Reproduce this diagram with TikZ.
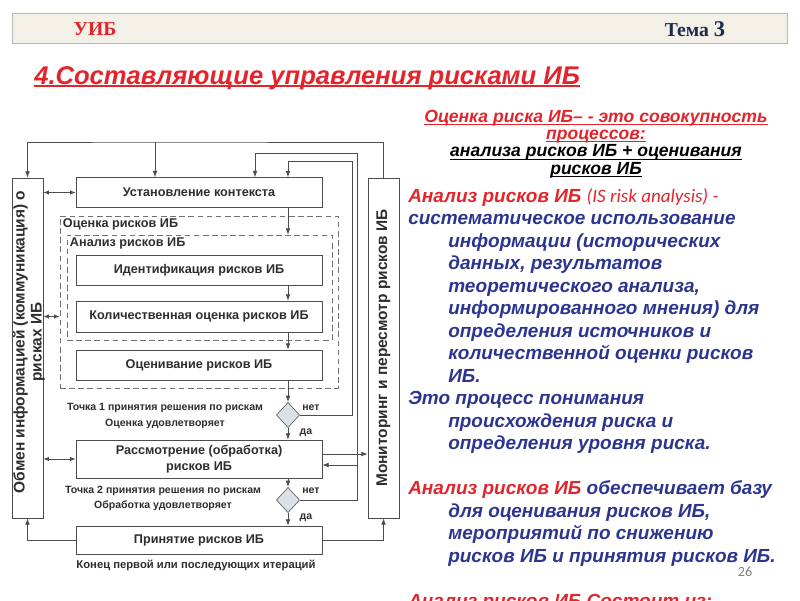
\documentclass[tikz,border=0pt]{standalone}
\usepackage{fontspec}
\setmainfont{Liberation Sans}
\newfontfamily\serifhead{Liberation Serif}
\newfontfamily\calib{Carlito}
\usetikzlibrary{arrows.meta,positioning,shapes.geometric}
\definecolor{rouge}{HTML}{E3242B}
\definecolor{bleu}{HTML}{2B3590}
\definecolor{gris}{HTML}{4D4D4D}
\definecolor{encre}{HTML}{2E2E2E}
\definecolor{marine}{HTML}{1C2B4C}
\definecolor{creme}{HTML}{F3F0E7}
\definecolor{losange}{HTML}{DCE0E8}
\newcommand\souligne[2][0.7pt]{\setbox0=\hbox{#2}\rlap{\usebox0}\rule[-1.8pt]{\wd0}{#1}}

\begin{document}
\begin{tikzpicture}[x=0.025cm,y=-0.025cm,
  boite/.style={draw=gris,fill=white,font=\fontsize{9}{11}\selectfont\bfseries,text=encre,minimum width=6.15cm,minimum height=0.75cm,inner sep=1pt,align=center},
  colonne/.style={draw=gris,fill=white,minimum width=0.775cm,minimum height=8.5cm,inner sep=0pt},
  coltxt/.style={rotate=90,align=center,font=\fontsize{11}{12}\selectfont\bfseries,text=encre,inner sep=0pt},
  zone/.style={draw=gris!80,dash pattern=on 4pt off 2.5pt,inner sep=0pt},
  zlab/.style={font=\fontsize{9}{11}\selectfont\bfseries,text=encre,anchor=north west,inner sep=1pt},
  choix/.style={diamond,draw=gris,fill=losange,minimum width=5.8mm,minimum height=6.3mm,inner sep=0pt},
  pointlab/.style={font=\fontsize{7.5}{11}\selectfont\bfseries,text=encre,align=center},
  rep/.style={font=\fontsize{7.5}{9}\selectfont\bfseries,text=encre,inner sep=1pt},
  fl/.style={-{Latex[length=1.6mm,width=1.2mm]},gris,line width=0.6pt},
  fl2/.style={{Latex[length=1.4mm,width=1.1mm]}-{Latex[length=1.4mm,width=1.1mm]},gris,line width=0.6pt},
  texte/.style={font=\fontsize{13.5}{16}\selectfont\bfseries\itshape,align=left,anchor=north west,inner sep=0pt}]
  \useasboundingbox (0,0) rectangle (800,600);
  \clip (0,0) rectangle (800,600);
  % ---- bandeau
  \node[draw=gray!55,fill=creme,minimum width=19.375cm,minimum height=0.75cm,inner sep=0pt] (bandeau) at (399.5,28) {};
  \node[font=\serifhead\bfseries\fontsize{14}{16}\selectfont,text=rouge] (uib) at (95,29) {УИБ};
  \node[font=\serifhead\bfseries\fontsize{14}{16}\selectfont,text=marine] (tema) at (695,29) {Тема {\fontsize{16}{16}\selectfont 3}};
  \node[font=\fontsize{18.2}{21}\selectfont\bfseries\itshape,text=rouge,anchor=west,inner sep=0pt] (titre) at (34,78) {\souligne[1.1pt]{4.Составляющие управления рисками ИБ}};
  % ---- texte de droite
  \node[font=\fontsize{12.5}{12.3}\selectfont\bfseries\itshape,align=center,text=black,inner sep=0pt] (defin) at (596,144)
    {\textcolor{rouge}{\souligne{Оценка риска  ИБ– - это совокупность}}\\
     \textcolor{rouge}{\souligne{процессов:}}\\
     \souligne{анализа рисков ИБ + оценивания}\\
     \souligne{рисков ИБ}};
  \node[texte,text=bleu] (analyse) at (408,188) {%
    \textcolor{rouge}{Анализ рисков ИБ {\calib\mdseries\itshape(IS risk analysis) -}}\\
    систематическое использование\\
    \hspace*{1cm}информации (исторических\\
    \hspace*{1cm}данных, результатов\\
    \hspace*{1cm}теоретического анализа,\\
    \hspace*{1cm}информированного мнения) для\\
    \hspace*{1cm}определения источников и\\
    \hspace*{1cm}количественной оценки рисков\\
    \hspace*{1cm}ИБ.\\
    Это процесс понимания\\
    \hspace*{1cm}происхождения риска и\\
    \hspace*{1cm}определения уровня риска.\\
    ~\\
    \textcolor{rouge}{Анализ рисков ИБ} обеспечивает базу\\
    \hspace*{1cm}для оценивания рисков ИБ,\\
    \hspace*{1cm}мероприятий по снижению\\
    \hspace*{1cm}рисков ИБ и принятия рисков ИБ.\\
    ~\\
    \textcolor{rouge}{Анализ рисков ИБ Состоит из:}};
  \node[font=\calib\fontsize{10}{12}\selectfont,text=gray] (num) at (745,572) {26};
  % ---- colonnes laterales
  \node[colonne] (obmen) at (27.5,348) {};
  \node[coltxt] (obmentxt) at (29,342) {Обмен информацией (коммуникация) о\\рисках ИБ};
  \node[colonne] (monit) at (383.5,348) {};
  \node[coltxt] (monittxt) at (monit) {Мониторинг и пересмотр рисков ИБ};
  % ---- processus
  \node[boite] (kont) at (199,192.5) {Установление контекста};
  \node[zone,minimum width=6.95cm,minimum height=4.3cm] (zocen) at (199,302) {};
  \node[zlab] (zocenlab) at ([xshift=0.4mm,yshift=-0.4mm]zocen.north west) {Оценка рисков ИБ};
  \node[zone,minimum width=6.625cm,minimum height=2.625cm] (zan) at (199.5,287.5) {};
  \node[zlab] (zanlab) at ([xshift=0.4mm,yshift=-0.4mm]zan.north west) {Анализ рисков ИБ};
  \node[boite] (ident) at (199,270) {Идентификация рисков ИБ};
  \node[boite,minimum height=0.775cm] (kolich) at (199,316.5) {Количественная оценка рисков ИБ};
  \node[boite] (ocen) at (199,365) {Оценивание рисков ИБ};
  \node[choix] (d1) at (288,415) {};
  \node[pointlab] (p1) at (165,416) {Точка 1 принятия решения по рискам\\Оценка удовлетворяет};
  \node[rep] (non1) at (311,408) {нет};
  \node[rep] (oui1) at (306,433) {да};
  \node[boite,minimum height=0.95cm] (rassm) at (199,459) {Рассмотрение (обработка)\\рисков ИБ};
  \node[choix] (d2) at (288,500) {};
  \node[pointlab] (p2) at (163,498.5) {Точка 2 принятия решения по рискам\\Обработка удовлетворяет};
  \node[rep] (non2) at (311,491) {нет};
  \node[rep] (oui2) at (306,518) {да};
  \node[boite,minimum height=0.7cm] (prin) at (199,540) {Принятие рисков ИБ};
  \node[pointlab,font=\fontsize{8}{10}\selectfont\bfseries] (fin) at (196,565) {Конец первой или последующих итераций};
  % ---- fleches verticales
  \draw[fl] (kont.south -| d1) -- (zan.north -| d1);
  \draw[fl] (ident.south -| d1) -- (kolich.north -| d1);
  \draw[fl] (kolich.south -| d1) -- (ocen.north -| d1);
  \draw[fl] (ocen.south -| d1) -- (d1.north);
  \draw[fl] (d1.south) -- (rassm.north -| d1);
  \draw[fl] (rassm.south -| d1) -- (d2.north);
  \draw[fl] (d2.south) -- (prin.north -| d1);
  % ---- boucles de retour
  \coordinate (haut) at (155,142);
  \coordinate (r1) at (352,161);
  \coordinate (r2) at (357,153);
  \coordinate (g2) at (255,153);
  \draw[fl] (monit.north) |- (haut) -| (obmen.north);
  \draw[fl] (haut) -- (haut |- kont.north);
  \draw[fl] (d1.east) -| (r1) -| (kont.north -| d1);
  \draw[fl] (d2.east) -| (r2) -| (g2 |- kont.north);
  \coordinate (rin) at ([yshift=-1.5mm]rassm.east);
  \coordinate (rout) at ([yshift=1.25mm]rassm.east);
  \draw[fl] (r2 |- rin) -- (rin);
  \draw[fl] (rout) -- (rout -| monit.west);
  \draw[fl] (prin.west) -| (obmen.south);
  \draw[fl] (prin.east) -| (monit.south);
  % ---- echanges
  \draw[fl2] (obmen.east |- kont) -- (kont.west);
  \draw[fl2] (obmen.east |- kolich) -- (zocen.west |- kolich);
  \draw[fl2] (obmen.east |- rassm) -- (rassm.west);
\end{tikzpicture}
\end{document}
